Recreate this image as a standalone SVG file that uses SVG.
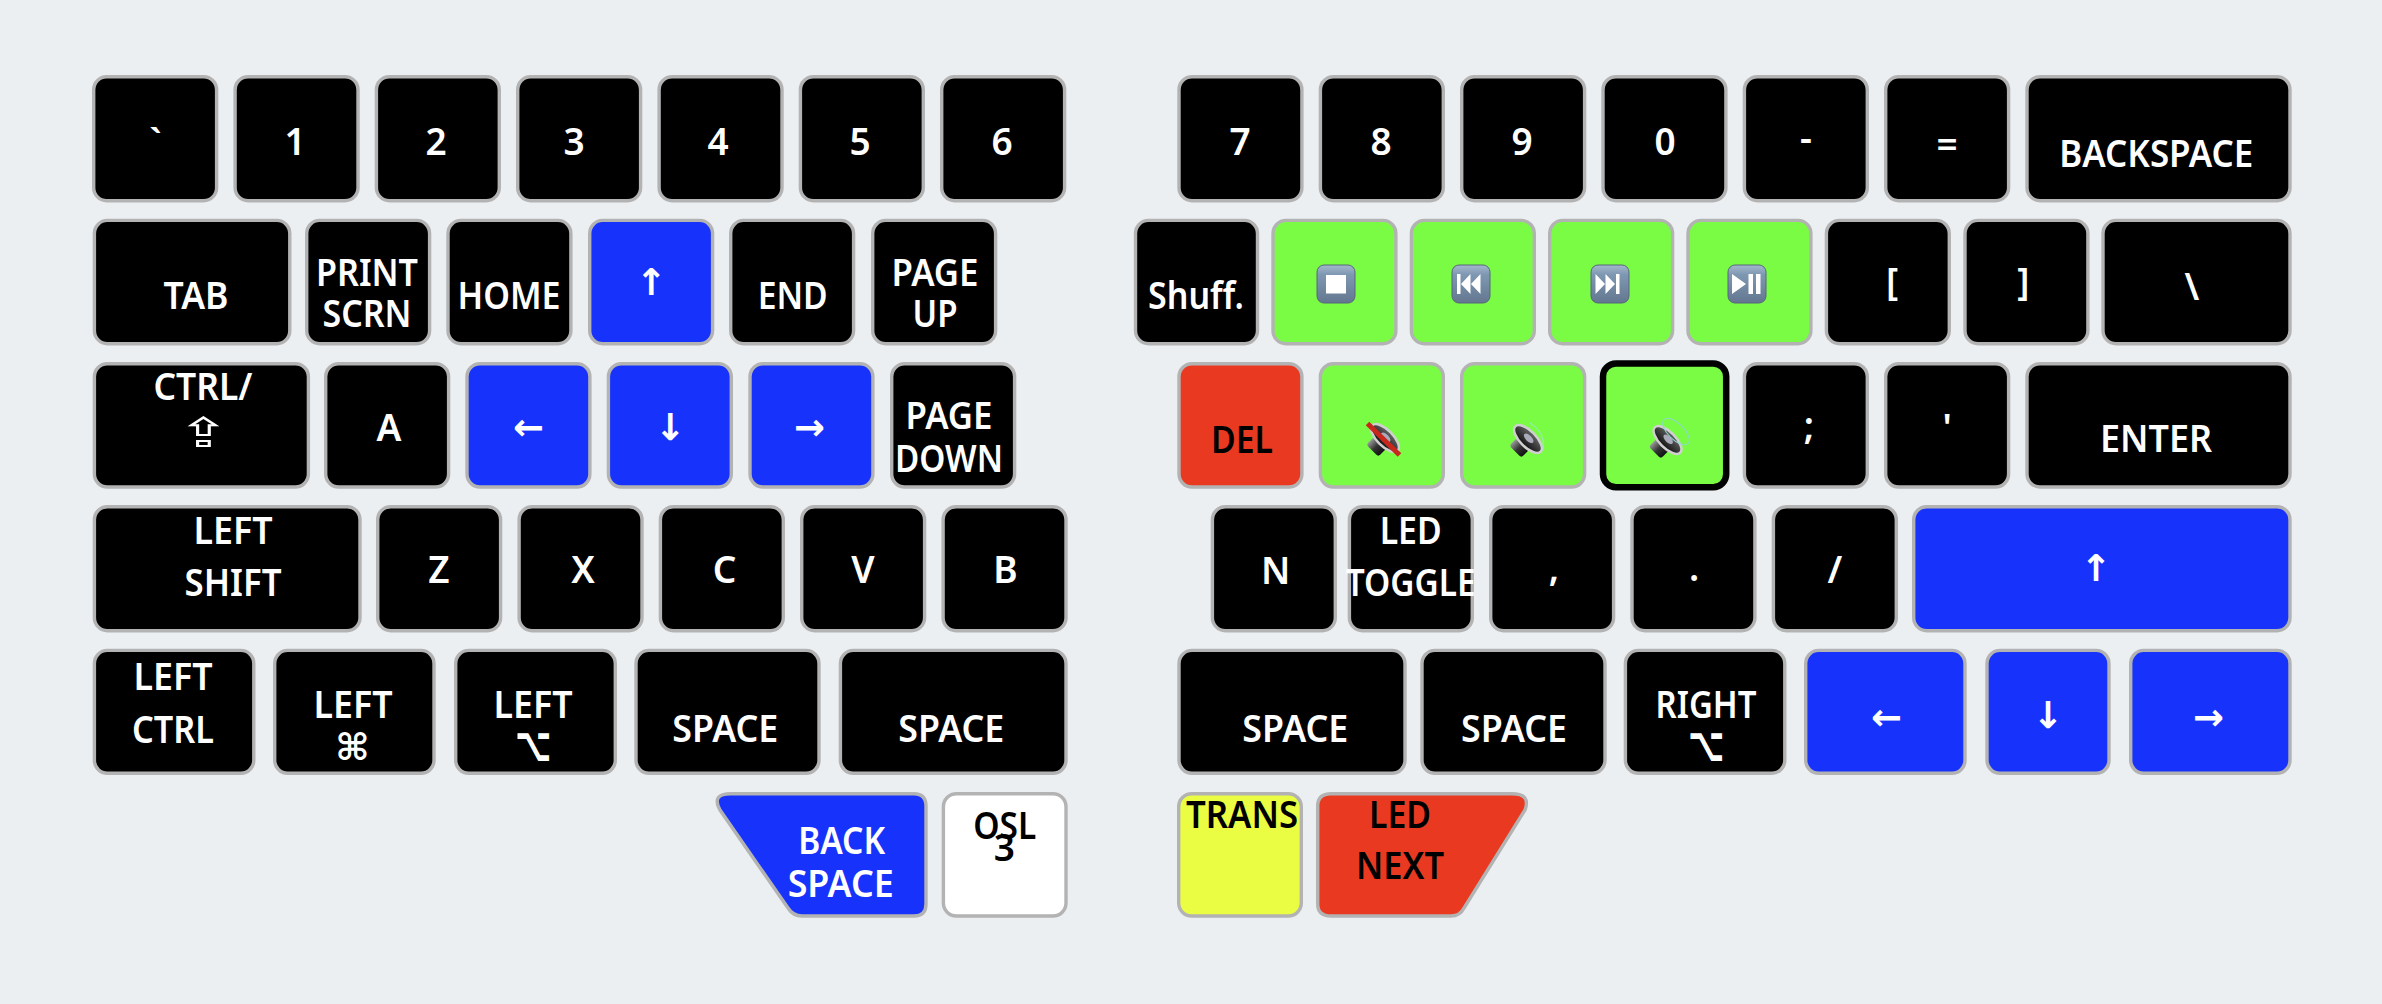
<svg xmlns="http://www.w3.org/2000/svg" width="2382" height="1004" viewBox="0 0 2382 1004">
<style>
.k{stroke:#b3b3b3;stroke-width:3.4}
.bk{fill:#000}.bl{fill:#1733fb}.gr{fill:#7afc45}.rd{fill:#e93a21}.ye{fill:#ebfd42}.wh{fill:#fff}
text{font-family:"Noto Sans","DejaVu Sans",sans-serif;font-size:37px;font-weight:600;text-anchor:middle;fill:#fff}
.d{fill:#000}
.s{font-family:"DejaVu Sans",sans-serif;font-weight:400}
.a{font-family:"DejaVu Sans",sans-serif;font-weight:700}
</style>
<defs>
<linearGradient id="mb" x1="0" y1="0" x2="0" y2="1"><stop offset="0" stop-color="#a4b8cc"/><stop offset=".25" stop-color="#7f98b2"/><stop offset="1" stop-color="#63778f"/></linearGradient>
<linearGradient id="cone" x1="0" y1="0" x2="1" y2="0"><stop offset="0" stop-color="#111"/><stop offset="1" stop-color="#666"/></linearGradient>
<linearGradient id="mag" x1="0" y1="0" x2="0" y2="1"><stop offset="0" stop-color="#999"/><stop offset=".5" stop-color="#333"/><stop offset="1" stop-color="#111"/></linearGradient>
<rect id="mbox" width="38" height="38" rx="7" fill="url(#mb)" stroke="#56677d" stroke-width="1"/>
<g id="spk">
<rect x="-18" y="-8.500" width="12" height="17" rx="3" fill="url(#mag)"/>
<path d="M0-16-9-6V6L0 16Z" fill="#555"/>
<ellipse cx="0" cy="0" rx="8" ry="18" fill="url(#cone)" stroke="#d0d0d0" stroke-width="2.500"/>
<ellipse cx="1" cy="0" rx="3" ry="6" fill="#aab"/>
</g>
</defs>
<rect width="2382" height="1004" fill="#ebeff2"/>
<g id="connectors"/>
<g id="left-row-1">
<g id="k-grave"><rect class="k bk" x="93.700" y="76.700" width="122.900" height="124" rx="13"/><text x="155.500" y="156">`</text></g>
<g id="k-1"><rect class="k bk" x="235.100" y="76.700" width="122.900" height="124" rx="13"/><text x="295" y="155">1</text></g>
<g id="k-2"><rect class="k bk" x="376.400" y="76.700" width="122.900" height="124" rx="13"/><text x="436" y="155">2</text></g>
<g id="k-3"><rect class="k bk" x="517.700" y="76.700" width="122.900" height="124" rx="13"/><text x="574" y="155">3</text></g>
<g id="k-4"><rect class="k bk" x="659.100" y="76.700" width="122.900" height="124" rx="13"/><text x="718" y="155">4</text></g>
<g id="k-5"><rect class="k bk" x="800.400" y="76.700" width="122.900" height="124" rx="13"/><text x="860" y="155">5</text></g>
<g id="k-6"><rect class="k bk" x="941.700" y="76.700" width="122.900" height="124" rx="13"/><text x="1002" y="155">6</text></g>
</g>
<g id="right-row-1">
<g id="k-7"><rect class="k bk" x="1179" y="76.700" width="122.900" height="124" rx="13"/><text x="1240" y="155">7</text></g>
<g id="k-8"><rect class="k bk" x="1320.400" y="76.700" width="122.900" height="124" rx="13"/><text x="1381" y="155">8</text></g>
<g id="k-9"><rect class="k bk" x="1461.700" y="76.700" width="122.900" height="124" rx="13"/><text x="1522" y="155">9</text></g>
<g id="k-0"><rect class="k bk" x="1603" y="76.700" width="122.900" height="124" rx="13"/><text x="1665" y="155">0</text></g>
<g id="k-minus"><rect class="k bk" x="1744.400" y="76.700" width="122.900" height="124" rx="13"/><text x="1806" y="151">-</text></g>
<g id="k-equal"><rect class="k bk" x="1885.700" y="76.700" width="122.900" height="124" rx="13"/><text x="1947" y="158">=</text></g>
<g id="k-backspace"><rect class="k bk" x="2027" y="76.700" width="263" height="124" rx="13"/><text x="2156.300" y="167" textLength="194" lengthAdjust="spacingAndGlyphs">BACKSPACE</text></g>
</g>
<g id="left-row-2">
<g id="k-tab"><rect class="k bk" x="94.400" y="220.400" width="195.400" height="123.300" rx="13"/><text x="196" y="309" textLength="65" lengthAdjust="spacingAndGlyphs">TAB</text></g>
<g id="k-print"><rect class="k bk" x="306.700" y="220.400" width="122.900" height="123.300" rx="13"/><text x="367" y="286" textLength="102" lengthAdjust="spacingAndGlyphs">PRINT</text><text x="367" y="327" textLength="89" lengthAdjust="spacingAndGlyphs">SCRN</text></g>
<g id="k-home"><rect class="k bk" x="448" y="220.400" width="122.900" height="123.300" rx="13"/><text x="509" y="309" textLength="103" lengthAdjust="spacingAndGlyphs">HOME</text></g>
<g id="k-up-l"><rect class="k bl" x="589.700" y="220.400" width="122.900" height="123.300" rx="13"/><text class="a" x="651" y="295">↑</text></g>
<g id="k-end"><rect class="k bk" x="730.700" y="220.400" width="122.900" height="123.300" rx="13"/><text x="792.700" y="309" textLength="70" lengthAdjust="spacingAndGlyphs">END</text></g>
<g id="k-pgup"><rect class="k bk" x="872.700" y="220.400" width="122.900" height="123.300" rx="13"/><text x="935" y="286" textLength="87" lengthAdjust="spacingAndGlyphs">PAGE</text><text x="935" y="327" textLength="45" lengthAdjust="spacingAndGlyphs">UP</text></g>
</g>
<g id="right-row-2">
<g id="k-shuff"><rect class="k bk" x="1135.500" y="220.400" width="122" height="123.300" rx="13"/><text x="1196" y="309" textLength="96" lengthAdjust="spacingAndGlyphs">Shuff.</text></g>
<g id="k-stop"><rect class="k gr" x="1273" y="220.400" width="122.900" height="123.300" rx="13"/><use href="#mbox" x="1317" y="265"/><rect x="1326" y="275" width="20" height="18.500" fill="#fff"/></g>
<g id="k-prev"><rect class="k gr" x="1411.400" y="220.400" width="122.900" height="123.300" rx="13"/><use href="#mbox" x="1452" y="265"/><path d="M1457 274h3.500v20H1457ZM1461 284l9.500-10v20ZM1471 284l9.500-10v20Z" fill="#fff"/></g>
<g id="k-next"><rect class="k gr" x="1549.700" y="220.400" width="122.900" height="123.300" rx="13"/><use href="#mbox" x="1591" y="265"/><path d="M1595.500 274l9.500 10-9.500 10ZM1605.500 274l9.500 10-9.500 10ZM1616 274h3.500v20H1616Z" fill="#fff"/></g>
<g id="k-play"><rect class="k gr" x="1688" y="220.400" width="122.900" height="123.300" rx="13"/><use href="#mbox" x="1728" y="265"/><path d="M1732 274l14 10-14 10ZM1748.500 274h4.500v20h-4.500ZM1756 274h4.500v20H1756Z" fill="#fff"/></g>
<g id="k-lbrk"><rect class="k bk" x="1826.400" y="220.400" width="122.900" height="123.300" rx="13"/><text x="1892" y="295">[</text></g>
<g id="k-rbrk"><rect class="k bk" x="1965" y="220.400" width="122.900" height="123.300" rx="13"/><text x="2023.300" y="295">]</text></g>
<g id="k-bslash"><rect class="k bk" x="2103" y="220.400" width="187" height="123.300" rx="13"/><text x="2192" y="300">\</text></g>
</g>
<g id="left-row-3">
<g id="k-ctrl"><rect class="k bk" x="94.400" y="363.700" width="214" height="123.300" rx="13"/><text x="203" y="400" textLength="99" lengthAdjust="spacingAndGlyphs">CTRL/</text><text class="s" transform="translate(203.500 447) scale(1.7 1.1)">⇪</text></g>
<g id="k-a"><rect class="k bk" x="325.700" y="363.700" width="122.900" height="123.300" rx="13"/><text x="389" y="441">A</text></g>
<g id="k-left-l"><rect class="k bl" x="467" y="363.700" width="122.900" height="123.300" rx="13"/><text class="a" x="528.500" y="440">←</text></g>
<g id="k-down-l"><rect class="k bl" x="608.400" y="363.700" width="122.900" height="123.300" rx="13"/><text class="a" x="670" y="440">↓</text></g>
<g id="k-right-l"><rect class="k bl" x="750" y="363.700" width="122.900" height="123.300" rx="13"/><text class="a" x="809.500" y="440">→</text></g>
<g id="k-pgdn"><rect class="k bk" x="891.700" y="363.700" width="122.900" height="123.300" rx="13"/><text x="949" y="429" textLength="87" lengthAdjust="spacingAndGlyphs">PAGE</text><text x="949" y="471.500" textLength="108" lengthAdjust="spacingAndGlyphs">DOWN</text></g>
</g>
<g id="right-row-3">
<g id="k-del"><rect class="k rd" x="1179" y="363.700" width="122.900" height="123.300" rx="13"/><text class="d" x="1242" y="453" textLength="62" lengthAdjust="spacingAndGlyphs">DEL</text></g>
<g id="k-mute"><rect class="k gr" x="1320.400" y="363.700" width="122.900" height="123.300" rx="13"/><use href="#spk" transform="translate(1385 438) rotate(-45)"/><path d="M1367.500 423.500L1399.500 455" stroke="#c8281c" stroke-width="5"/></g>
<g id="k-voldn"><rect class="k gr" x="1461.700" y="363.700" width="122.900" height="123.300" rx="13"/><use href="#spk" transform="translate(1528 439) rotate(-45)"/><path d="M1530 423Q1546 432 1543 450" fill="none" stroke="#9fe6c8" stroke-width="1"/></g>
<g id="k-volup"><rect fill="#7afc45" stroke="#000" stroke-width="6.500" x="1603" y="363.500" width="123.200" height="123.800" rx="13"/><use href="#spk" transform="translate(1667.500 440) rotate(-45)"/><ellipse cx="0" cy="0" rx="8" ry="17" transform="translate(1676 431.500) rotate(-45)" fill="none" stroke="#8fd8d0" stroke-width="1"/></g>
<g id="k-semi"><rect class="k bk" x="1744.400" y="363.700" width="122.900" height="123.300" rx="13"/><text x="1809" y="439">;</text></g>
<g id="k-quote"><rect class="k bk" x="1885.700" y="363.700" width="122.900" height="123.300" rx="13"/><text x="1947" y="441">'</text></g>
<g id="k-enter"><rect class="k bk" x="2027" y="363.700" width="263" height="123.300" rx="13"/><text x="2156" y="452" textLength="112" lengthAdjust="spacingAndGlyphs">ENTER</text></g>
</g>
<g id="left-row-4">
<g id="k-lshift"><rect class="k bk" x="94.400" y="506.700" width="265.600" height="124" rx="13"/><text x="233" y="544" textLength="79" lengthAdjust="spacingAndGlyphs">LEFT</text><text x="233" y="596" textLength="97" lengthAdjust="spacingAndGlyphs">SHIFT</text></g>
<g id="k-z"><rect class="k bk" x="377.700" y="506.700" width="122.900" height="124" rx="13"/><text x="439" y="583">Z</text></g>
<g id="k-x"><rect class="k bk" x="519.100" y="506.700" width="122.900" height="124" rx="13"/><text x="583" y="583">X</text></g>
<g id="k-c"><rect class="k bk" x="660.400" y="506.700" width="122.900" height="124" rx="13"/><text x="724.500" y="583">C</text></g>
<g id="k-v"><rect class="k bk" x="801.700" y="506.700" width="122.900" height="124" rx="13"/><text x="863" y="583">V</text></g>
<g id="k-b"><rect class="k bk" x="943.100" y="506.700" width="122.900" height="124" rx="13"/><text x="1005.500" y="583">B</text></g>
</g>
<g id="right-row-4">
<g id="k-n"><rect class="k bk" x="1212.400" y="506.700" width="122.900" height="124" rx="13"/><text x="1275.700" y="584">N</text></g>
<g id="k-led"><rect class="k bk" x="1349.400" y="506.700" width="122.900" height="124" rx="13"/><text x="1410.700" y="544.300" textLength="62" lengthAdjust="spacingAndGlyphs">LED</text><text x="1410.700" y="595.700" textLength="130" lengthAdjust="spacingAndGlyphs">TOGGLE</text></g>
<g id="k-comma"><rect class="k bk" x="1490.700" y="506.700" width="122.900" height="124" rx="13"/><text x="1554" y="581">,</text></g>
<g id="k-dot"><rect class="k bk" x="1632" y="506.700" width="122.900" height="124" rx="13"/><text x="1694" y="581">.</text></g>
<g id="k-slash"><rect class="k bk" x="1773.400" y="506.700" width="122.900" height="124" rx="13"/><text x="1835" y="583">/</text></g>
<g id="k-up-r"><rect class="k bl" x="1913.700" y="506.700" width="376.300" height="124" rx="13"/><text class="a" x="2095.700" y="581">↑</text></g>
</g>
<g id="left-row-5">
<g id="k-lctrl"><rect class="k bk" x="94.400" y="650.400" width="159.400" height="122.900" rx="13"/><text x="173" y="690" textLength="79" lengthAdjust="spacingAndGlyphs">LEFT</text><text x="173" y="743" textLength="82" lengthAdjust="spacingAndGlyphs">CTRL</text></g>
<g id="k-lcmd"><rect class="k bk" x="274.700" y="650.400" width="159.300" height="122.900" rx="13"/><text x="353" y="718" textLength="79" lengthAdjust="spacingAndGlyphs">LEFT</text><text class="a" x="352.500" y="760">⌘</text></g>
<g id="k-lopt"><rect class="k bk" x="455.700" y="650.400" width="159.600" height="122.900" rx="13"/><text x="533" y="718" textLength="79" lengthAdjust="spacingAndGlyphs">LEFT</text><text class="a" transform="translate(533 761) scale(.85 1.3)">⌥</text></g>
<g id="k-sp1"><rect class="k bk" x="636" y="650.400" width="183" height="122.900" rx="13"/><text x="725.300" y="742.300" textLength="106" lengthAdjust="spacingAndGlyphs">SPACE</text></g>
<g id="k-sp2"><rect class="k bk" x="840.400" y="650.400" width="225.600" height="122.900" rx="13"/><text x="951.300" y="742.300" textLength="106" lengthAdjust="spacingAndGlyphs">SPACE</text></g>
</g>
<g id="right-row-5">
<g id="k-sp3"><rect class="k bk" x="1179" y="650.400" width="226" height="122.900" rx="13"/><text x="1295.300" y="742.300" textLength="106" lengthAdjust="spacingAndGlyphs">SPACE</text></g>
<g id="k-sp4"><rect class="k bk" x="1422" y="650.400" width="183" height="122.900" rx="13"/><text x="1514" y="742.300" textLength="106" lengthAdjust="spacingAndGlyphs">SPACE</text></g>
<g id="k-ropt"><rect class="k bk" x="1625.400" y="650.400" width="159.400" height="122.900" rx="13"/><text x="1706" y="718" textLength="101" lengthAdjust="spacingAndGlyphs">RIGHT</text><text class="a" transform="translate(1706 761) scale(.85 1.3)">⌥</text></g>
<g id="k-left-r"><rect class="k bl" x="1805.700" y="650.400" width="159.300" height="122.900" rx="13"/><text class="a" x="1886.500" y="730">←</text></g>
<g id="k-down-r"><rect class="k bl" x="1987" y="650.400" width="122" height="122.900" rx="13"/><text class="a" x="2047.700" y="728">↓</text></g>
<g id="k-right-r"><rect class="k bl" x="2130.700" y="650.400" width="159.300" height="122.900" rx="13"/><text class="a" x="2208.500" y="730">→</text></g>
</g>
<g id="thumbs">
<g id="k-bksp"><path class="k bl" d="M731 793.700H914Q926 793.700 926 806V904Q926 916 914 916H802Q793 916 788 908L720 810Q711 793.700 731 793.700Z"/><text x="841.700" y="854.300" textLength="87" lengthAdjust="spacingAndGlyphs">BACK</text><text x="840.700" y="896.700" textLength="106" lengthAdjust="spacingAndGlyphs">SPACE</text></g>
<g id="k-osl"><rect class="k wh" x="943.400" y="793.700" width="122.600" height="122.300" rx="13"/><text class="d" x="1004.700" y="839" textLength="63" lengthAdjust="spacingAndGlyphs">OSL</text><text class="d" x="1004.300" y="861">3</text></g>
<g id="k-trans"><rect class="k ye" x="1178.700" y="793.700" width="122.600" height="122.300" rx="13"/><text class="d" x="1242" y="828" textLength="112" lengthAdjust="spacingAndGlyphs">TRANS</text></g>
<g id="k-lednext"><path class="k rd" d="M1331 793.700H1512Q1531 793.700 1525 810L1464 908Q1460 916 1451 916H1331Q1317.700 916 1317.700 904V806Q1317.700 793.700 1331 793.700Z"/><text class="d" x="1400" y="828" textLength="62" lengthAdjust="spacingAndGlyphs">LED</text><text class="d" x="1400" y="879" textLength="88" lengthAdjust="spacingAndGlyphs">NEXT</text></g>
</g>
</svg>
